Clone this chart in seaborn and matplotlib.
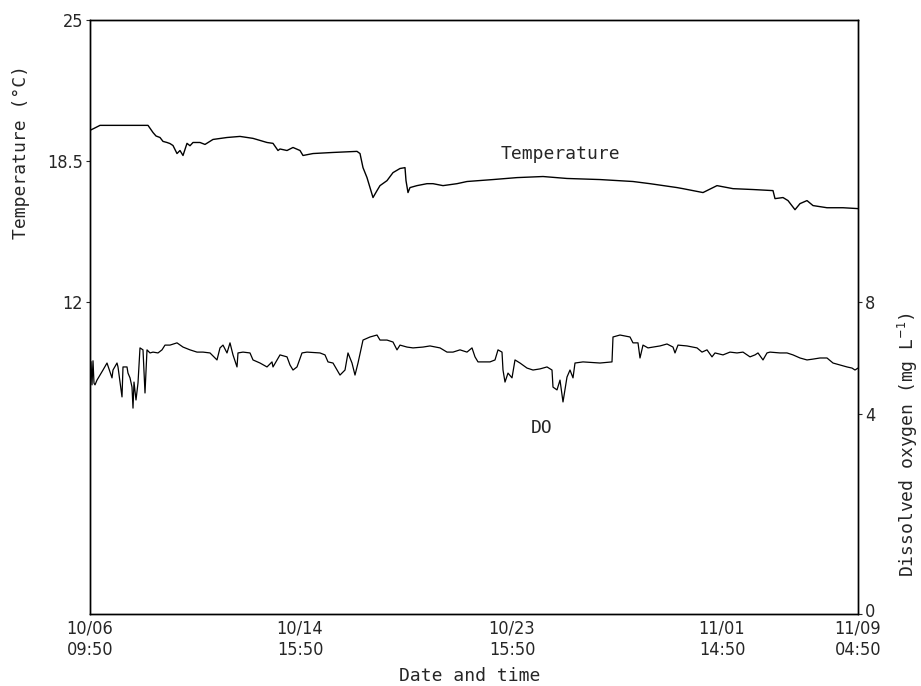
import numpy as np
import pandas as pd
import matplotlib
matplotlib.use("Agg")
import matplotlib.pyplot as plt
import matplotlib.transforms as mtransforms
import seaborn as sns

# ---------------- data ----------------
temp_x = [0, 4, 10, 58, 63, 66, 70, 73, 77, 80, 83, 87, 90, 93, 97, 100, 103, 110, 115, 123,
          137, 150, 163, 177, 183, 188, 190, 197, 203, 210, 213, 223, 243, 267, 270, 273, 277,
          280, 283, 287, 290, 297, 303, 310, 315, 316, 318, 320, 327, 337, 343, 353, 367, 377,
          403, 427, 453, 477, 510, 543, 560, 587, 593, 613, 627, 643, 663, 683, 685, 693, 698,
          705, 710, 717, 723, 737, 753, 768]
temp_y = [19.91, 20.0, 20.14, 20.14, 19.81, 19.65, 19.58, 19.4, 19.35, 19.3, 19.21, 18.84,
          18.98, 18.75, 19.31, 19.2, 19.35, 19.35, 19.26, 19.49, 19.58, 19.63, 19.54, 19.35,
          19.31, 18.98, 19.05, 18.98, 19.12, 18.98, 18.75, 18.84, 18.89, 18.94, 18.84, 18.19,
          17.73, 17.27, 16.81, 17.13, 17.36, 17.59, 17.96, 18.15, 18.19, 17.59, 17.04, 17.27,
          17.36, 17.45, 17.45, 17.36, 17.45, 17.55, 17.64, 17.73, 17.78, 17.69, 17.64, 17.55,
          17.45, 17.27, 17.22, 17.04, 17.36, 17.22, 17.18, 17.13, 16.76, 16.81, 16.67, 16.25,
          16.53, 16.67, 16.44, 16.34, 16.34, 16.30]

do_x = [1, 2, 3, 4, 5, 7, 10, 13, 17, 20, 22, 23, 27, 28, 32, 33, 37, 38, 40, 42, 43, 44, 46,
        48, 50, 53, 55, 57, 60, 63, 68, 72, 75, 80, 87, 93, 100, 107, 113, 120, 127, 130, 133,
        137, 140, 143, 147, 148, 153, 160, 163, 170, 177, 182, 183, 187, 190, 197, 200, 203,
        207, 212, 217, 230, 235, 238, 243, 250, 255, 258, 262, 265, 268, 273, 280, 287, 290,
        297, 303, 307, 310, 317, 323, 333, 340, 350, 357, 363, 370, 377, 382, 385, 388, 400,
        405, 408, 412, 413, 415, 418, 422, 425, 430, 437, 443, 450, 457, 462, 463, 467, 470,
        473, 477, 480, 483, 485, 493, 510, 522, 523, 530, 540, 543, 548, 550, 553, 558, 563,
        570, 577, 583, 585, 588, 597, 607, 612, 617, 622, 625, 633, 640, 647, 653, 660, 665,
        668, 673, 677, 680, 690, 697, 703, 710, 717, 723, 730, 737, 743, 750, 757, 762, 765, 768]
do_y = [5.87, 5.04, 5.9, 5.1, 5.04, 5.21, 5.39, 5.57, 5.82, 5.5, 5.29, 5.57, 5.82, 5.68, 4.61,
        5.68, 5.68, 5.46, 5.29, 4.96, 4.21, 5.14, 4.5, 5.11, 6.36, 6.29, 4.75, 6.29, 6.18, 6.21,
        6.18, 6.29, 6.46, 6.46, 6.54, 6.39, 6.29, 6.21, 6.21, 6.18, 5.93, 6.36, 6.46, 6.18, 6.54,
        6.11, 5.68, 6.18, 6.21, 6.18, 5.93, 5.82, 5.68, 5.86, 5.68, 5.93, 6.11, 6.04, 5.75, 5.57,
        5.68, 6.18, 6.21, 6.18, 6.11, 5.86, 5.82, 5.39, 5.57, 6.18, 5.82, 5.39, 5.82, 6.64, 6.75,
        6.82, 6.64, 6.64, 6.57, 6.29, 6.46, 6.39, 6.36, 6.39, 6.43, 6.36, 6.21, 6.21, 6.29, 6.21,
        6.36, 6.04, 5.86, 5.86, 5.93, 6.29, 6.21, 5.57, 5.14, 5.46, 5.29, 5.93, 5.82, 5.64, 5.57,
        5.61, 5.68, 5.57, 4.96, 4.86, 5.21, 4.43, 5.32, 5.57, 5.29, 5.82, 5.86, 5.82, 5.86, 6.75,
        6.82, 6.75, 6.54, 6.54, 6.0, 6.46, 6.36, 6.39, 6.43, 6.5, 6.39, 6.18, 6.46, 6.43, 6.36,
        6.21, 6.29, 6.04, 6.18, 6.11, 6.21, 6.18, 6.21, 6.04, 6.11, 6.18, 5.93, 6.18, 6.21, 6.18,
        6.18, 6.11, 6.0, 5.93, 5.96, 6.0, 6.0, 5.82, 5.75, 5.68, 5.64, 5.57, 5.64]

tick_pos = [0, 210, 422, 632, 768]
tick_labels = ["10/06\n09:50", "10/14\n15:50", "10/23\n15:50", "11/01\n14:50", "11/09\n04:50"]
temp_ticks = [25, 18.5, 12]
do_ticks = [0, 4, 8]

# ---------------- style ----------------
sns.set_style("ticks")
plt.rcParams["font.family"] = ["DejaVu Sans"]
plt.rcParams["font.stretch"] = "condensed"
plt.rcParams["mathtext.fontset"] = "dejavusans"
FS = 13
MONO = ["DejaVu Sans Mono", "DejaVu Sans"]

fig = plt.figure(figsize=(9.21, 6.86), dpi=100)
ax = fig.add_axes([90 / 921, 72 / 686, 768 / 921, 594 / 686])

df_t = pd.DataFrame({"x": temp_x, "T": temp_y})
df_d = pd.DataFrame({"x": do_x, "DO": do_y})

sns.lineplot(data=df_t, x="x", y="T", ax=ax, color="black", linewidth=1.0)
ax.set_xlim(0, 768)
ax.set_ylim(-2.4, 25)
ax.set_yticks(temp_ticks)
ax.set_yticklabels(["25", "18.5", "12"])
ax.set_xticks(tick_pos)
ax.set_xticklabels(tick_labels, linespacing=1.25)
ax.tick_params(axis="x", length=0, pad=4, labelsize=FS)
ax.tick_params(axis="y", length=3, width=0.8, direction="out", labelsize=FS, pad=2)
ax.set_xlabel("Date and time", fontsize=FS, family=MONO, stretch="normal")
ax.xaxis.set_label_coords((470 - 90) / 768, -(667 - 614) / 594)
ax.set_ylabel("Temperature (°C)", fontsize=FS, family=MONO, stretch="normal")
ax.yaxis.set_label_coords((30 - 90) / 768, (614 - 152) / 594)

ax2 = ax.twinx()


def _fwd(v):
    v = np.asarray(v, dtype=float)
    return np.where(v <= 4, v * 50.0, 200.0 + (v - 4) * 28.0)


def _inv(u):
    u = np.asarray(u, dtype=float)
    return np.where(u <= 200, u / 50.0, 4 + (u - 200) / 28.0)


ax2.set_yscale("function", functions=(_fwd, _inv))
sns.lineplot(data=df_d, x="x", y="DO", ax=ax2, color="black", linewidth=0.9)
ax2.set_ylim(0, 18.07)
ax2.set_yticks(do_ticks)
ax2.set_yticklabels(["0", "4", "8"])
ax2.yaxis.set_minor_locator(matplotlib.ticker.NullLocator())
ax2.tick_params(axis="y", length=3, width=0.8, direction="out", labelsize=FS, pad=2)
ax2.set_ylabel("Dissolved oxygen (mg L$^{-1}$)", fontsize=FS, family=MONO, stretch="normal")
ax2.yaxis.set_label_coords((896 - 90) / 768, (614 - 445) / 594)
ax2.set_xlim(0, 768)

# nudge the "0" label up a little so it clears the date label under it
lbl0 = ax2.get_yticklabels()[0]
lbl0.set_transform(lbl0.get_transform() + mtransforms.ScaledTranslation(0, 4 / 100, fig.dpi_scale_trans))

for a in (ax, ax2):
    for s in a.spines.values():
        s.set_color("black")
        s.set_linewidth(1.0)

ax.text(470, 18.84, "Temperature", fontsize=FS, ha="center", va="center", family=MONO)
ax2.text(452, 3.72, "DO", fontsize=FS, ha="center", va="center", family=MONO)

fig.savefig("out.png", dpi=100)
